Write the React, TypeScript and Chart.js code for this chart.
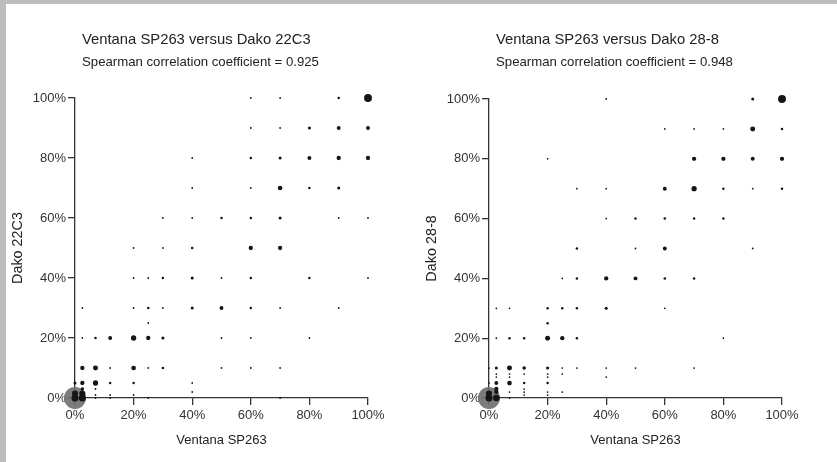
import React, { useEffect, useRef } from "react";
import { Chart, registerables } from "chart.js";

Chart.register(...registerables);

const FONT = "'Liberation Sans', Arial, Helvetica, sans-serif";

// Axis ticks (percent)
const tickValues = [0, 20, 40, 60, 80, 100];

// Left panel: Ventana SP263 (x) vs Dako 22C3 (y); n = number of cases at the point
const leftTitle = "Ventana SP263 versus Dako 22C3";
const leftSubtitle = "Spearman correlation coefficient = 0.925";
const leftYLabel = "Dako 22C3";
const leftX = [
  60, 70, 90, 100,
  60, 70, 80, 90, 100,
  40, 60, 70, 80, 90, 100,
  40, 60, 70, 80, 90,
  30, 40, 50, 60, 70, 90, 100,
  20, 30, 40, 60, 70,
  20, 25, 30, 40, 50, 60, 80, 100,
  2.5, 20, 25, 30, 40, 50, 60, 70, 90,
  25,
  2.5, 7, 12, 20, 25, 30, 50, 60, 80,
  2.5, 7, 12, 20, 25, 30, 50, 60, 70,
  0, 2.5, 7, 12, 20, 40,
  7, 40,
  7, 12, 20,
  7, 12, 25, 70,
  0, 0, 2.5, 2.5, 2.5,
];
const leftY = [
  100, 100, 100, 100,
  90, 90, 90, 90, 90,
  80, 80, 80, 80, 80, 80,
  70, 70, 70, 70, 70,
  60, 60, 60, 60, 60, 60, 60,
  50, 50, 50, 50, 50,
  40, 40, 40, 40, 40, 40, 40, 40,
  30, 30, 30, 30, 30, 30, 30, 30, 30,
  25,
  20, 20, 20, 20, 20, 20, 20, 20, 20,
  10, 10, 10, 10, 10, 10, 10, 10, 10,
  5, 5, 5, 5, 5, 5,
  3, 2,
  1, 1, 1,
  0, 0, 0, 0,
  0, 1.5, 0, 1.5, 3,
];
const leftN = [
  1, 1, 2, 20,
  1, 1, 3, 5, 5,
  1, 2, 3, 5, 6, 6,
  1, 1, 7, 2, 3,
  1, 1, 2, 2, 3, 1, 1,
  1, 1, 2, 6, 6,
  1, 1, 2, 3, 1, 2, 2, 1,
  1, 1, 2, 1, 3, 5, 2, 1, 1,
  1,
  1, 2, 5, 9, 6, 3, 1, 1, 1,
  6, 8, 1, 7, 1, 2, 1, 1, 1,
  3, 6, 9, 2, 2, 1,
  1, 1,
  1, 1, 1,
  1, 1, 1, 1,
  16, 12, 16, 12, 4,
];

// Right panel: Ventana SP263 (x) vs Dako 28-8 (y)
const rightTitle = "Ventana SP263 versus Dako 28-8";
const rightSubtitle = "Spearman correlation coefficient = 0.948";
const rightYLabel = "Dako 28-8";
const rightX = [
  40, 90, 100,
  60, 70, 80, 90, 100,
  20, 70, 80, 90, 100,
  30, 40, 60, 70, 80, 90, 100,
  40, 50, 60, 70, 80,
  30, 50, 60, 90,
  25, 30, 40, 50, 60, 70,
  2.5, 7, 20, 25, 30, 40, 60,
  20,
  2.5, 7, 12, 20, 25, 30, 80,
  0, 2.5, 7, 12, 20, 25, 30, 40, 50, 70,
  2.5, 7, 12, 20, 25,
  2.5, 7, 20, 40,
  0, 2.5, 7, 12, 20,
  2.5, 12,
  7, 12, 20, 25,
  12, 20,
  7,
  0, 0, 2.5, 2.5,
];
const rightY = [
  100, 100, 100,
  90, 90, 90, 90, 90,
  80, 80, 80, 80, 80,
  70, 70, 70, 70, 70, 70, 70,
  60, 60, 60, 60, 60,
  50, 50, 50, 50,
  40, 40, 40, 40, 40, 40,
  30, 30, 30, 30, 30, 30, 30,
  25,
  20, 20, 20, 20, 20, 20, 20,
  10, 10, 10, 10, 10, 10, 10, 10, 10, 10,
  8, 8, 8, 8, 8,
  7, 7, 7, 7,
  5, 5, 5, 5, 5,
  3, 3,
  2, 2, 2, 2,
  1, 1,
  0,
  0, 1.5, 0, 2,
];
const rightN = [
  1, 3, 20,
  1, 1, 1, 8, 2,
  1, 6, 6, 5, 6,
  1, 1, 5, 9, 2, 1, 2,
  1, 2, 2, 2, 2,
  2, 1, 5, 1,
  1, 2, 6, 5, 2, 2,
  1, 1, 2, 2, 2, 3, 1,
  2,
  1, 2, 2, 8, 6, 2, 1,
  1, 3, 8, 4, 3, 1, 1, 1, 1, 1,
  1, 1, 1, 1, 1,
  1, 1, 1, 1,
  1, 5, 7, 2, 2,
  6, 1,
  1, 1, 1, 1,
  1, 1,
  1,
  16, 12, 14, 6,
];

type PanelProps = {
  left: number;
  width: number;
  axisLeft: number;
  axisRight: number;
  axisTop: number;
  yTitlePad: number;
  title: string;
  subtitle: string;
  yLabel: string;
  xs: number[];
  ys: number[];
  ns: number[];
};

function Panel(p: PanelProps) {
  const ref = useRef<HTMLCanvasElement | null>(null);
  useEffect(() => {
    if (!ref.current) return;
    const H = 462;
    const points = p.xs.map((x, i) => ({ x, y: p.ys[i] }));
    const radii = p.ns.map((n) => 0.88 * Math.sqrt(n));
    const titlePlugin = {
      id: "panelTitles",
      afterDraw(chart: any) {
        const ctx = chart.ctx;
        const x0 = chart.chartArea.left + 7;
        ctx.save();
        ctx.fillStyle = "#222";
        ctx.textAlign = "left";
        ctx.textBaseline = "middle";
        ctx.font = `14.8px ${FONT}`;
        ctx.fillText(p.title, x0, 40);
        ctx.font = `13.2px ${FONT}`;
        ctx.fillText(p.subtitle, x0, 62);
        ctx.restore();
      },
    };
    const axisCommon = {
      type: "linear" as const,
      min: 0,
      max: 100,
      z: 1,
      border: { display: true, color: "#333", width: 1.3 },
      grid: {
        drawOnChartArea: false,
        drawTicks: true,
        tickLength: 7,
        color: "#333",
        lineWidth: 1.3,
      },
    };
    const chart = new Chart(ref.current, {
      type: "scatter",
      data: {
        datasets: [
          {
            data: points,
            pointRadius: radii,
            pointHoverRadius: radii,
            backgroundColor: "#151515",
            borderWidth: 0,
            clip: false,
          } as any,
          {
            data: [{ x: 0, y: 0 }],
            pointRadius: 11,
            backgroundColor: "rgba(110,110,110,0.9)",
            borderWidth: 0,
            clip: false,
          } as any,
        ],
      },
      options: {
        animation: false,
        responsive: false,
        devicePixelRatio: 1,
        layout: {
          padding: {
            left: 0,
            top: p.axisTop,
            right: p.width - p.axisRight,
            bottom: 0,
          },
        },
        plugins: {
          legend: { display: false },
          tooltip: { enabled: false },
        },
        scales: {
          x: {
            ...axisCommon,
            position: "bottom",
            afterBuildTicks: (s: any) => {
              s.ticks = tickValues.map((v) => ({ value: v }));
            },
            afterFit: (s: any) => {
              s.height = H - 398;
            },
            ticks: {
              padding: 3,
              color: "#333",
              font: { family: FONT, size: 13 },
              callback: (v: any) => `${v}%`,
              maxRotation: 0,
            },
            title: {
              display: true,
              text: "Ventana SP263",
              color: "#222",
              font: { family: FONT, size: 13 },
              padding: { top: 0, bottom: 14 },
            },
          },
          y: {
            ...axisCommon,
            position: "left",
            afterBuildTicks: (s: any) => {
              s.ticks = tickValues.map((v) => ({ value: v }));
            },
            afterFit: (s: any) => {
              s.width = p.axisLeft;
            },
            ticks: {
              padding: 2,
              color: "#333",
              font: { family: FONT, size: 13 },
              callback: (v: any) => `${v}%`,
            },
            title: {
              display: true,
              text: p.yLabel,
              color: "#222",
              font: { family: FONT, size: 14.4 },
              padding: { top: p.yTitlePad, bottom: 0 },
            },
          },
        },
      },
      plugins: [titlePlugin],
    } as any);
    return () => chart.destroy();
  }, []);
  return (
    <canvas
      ref={ref}
      width={p.width}
      height={462}
      style={{
        position: "absolute",
        left: p.left,
        top: 0,
        width: p.width,
        height: 462,
      }}
    />
  );
}

export default function App() {
  return (
    <div
      style={{
        position: "absolute",
        left: 0,
        top: 0,
        width: 837,
        height: 462,
        background: "#fff",
        overflow: "hidden",
      }}
    >
      <Panel
        left={0}
        width={418}
        axisLeft={75}
        axisRight={368}
        axisTop={98}
        yTitlePad={9}
        title={leftTitle}
        subtitle={leftSubtitle}
        yLabel={leftYLabel}
        xs={leftX}
        ys={leftY}
        ns={leftN}
      />
      <Panel
        left={418}
        width={419}
        axisLeft={71}
        axisRight={364}
        axisTop={99}
        yTitlePad={5}
        title={rightTitle}
        subtitle={rightSubtitle}
        yLabel={rightYLabel}
        xs={rightX}
        ys={rightY}
        ns={rightN}
      />
      <div
        style={{
          position: "absolute",
          left: 0,
          top: 0,
          width: 837,
          height: 4,
          background: "#bdbdbd",
        }}
      />
      <div
        style={{
          position: "absolute",
          left: 0,
          top: 0,
          width: 6,
          height: 462,
          background: "#bdbdbd",
        }}
      />
    </div>
  );
}
